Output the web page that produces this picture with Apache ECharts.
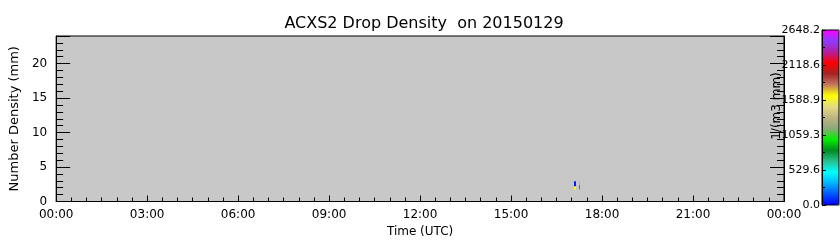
<!DOCTYPE html>
<html>
<head>
<meta charset="utf-8">
<script src="https://cdn.jsdelivr.net/npm/echarts@6/dist/echarts.min.js"></script>
<style>html,body{margin:0;padding:0;background:#fff}#c{width:840px;height:250px}</style>
</head>
<body>
<div id="c"></div>
<script>
// Data (hours UTC, drop diameter mm, density 1/(m3 mm))
const timeStart = [17.077, 17.077, 17.242, 17.242];
const timeEnd   = [17.143, 17.143, 17.275, 17.275];
const diamLow   = [2.17, 1.74, 2.36, 1.78];
const diamHigh  = [2.94, 2.17, 2.94, 2.36];
const density   = [60, 1650, 500, 2600];

const xTickHours = [0, 3, 6, 9, 12, 15, 18, 21, 24];
const yTicks = [0, 5, 10, 15, 20];
const colorbarMax = 2648.2;
const colorbarStep = 529.64;

const palette = ['#0000ff','#0056ff','#00b4ff','#00ffff','#28c090','#008c1e','#00f000','#8caa78',
  '#beb482','#e6dc82','#ffff00','#c3785f','#a52323','#ff0000','#b41ea0','#8c3cff','#ff00ff'];

const cells = timeStart.map((t, i) => [t, timeEnd[i], diamLow[i], diamHigh[i], density[i]]);

const FONT = 'DejaVu Sans';
const chart = echarts.init(document.getElementById('c'), null, {renderer: 'canvas'});
chart.setOption({
  animation: false,
  backgroundColor: '#ffffff',
  title: {
    text: 'ACXS2 Drop Density  on 20150129',
    left: 419, top: 11, textAlign: 'center',
    textStyle: {fontFamily: FONT, fontSize: 16, fontWeight: 'normal', color: '#000'}
  },
  grid: [
    {left: 56, top: 36, width: 728, height: 165.5, show: true, backgroundColor: 'rgb(200,200,200)',
     borderColor: '#000', borderWidth: 1},
    {left: 822, top: 30, width: 17, height: 175, show: true, backgroundColor: 'transparent',
     borderColor: '#000', borderWidth: 1, z: 10}
  ],
  visualMap: {
    type: 'continuous', min: 0, max: colorbarMax, dimension: 4, seriesIndex: 0,
    calculable: false, left: 822, top: 30, itemWidth: 17, itemHeight: 175, padding: 0,
    inRange: {color: palette}, text: null, hoverLink: false
  },
  xAxis: [
    {type: 'value', gridIndex: 0, min: 0, max: 24, interval: 3,
     name: 'Time (UTC)', nameLocation: 'middle', nameGap: 24,
     nameTextStyle: {fontFamily: FONT, fontSize: 12, color: '#000'},
     axisLine: {lineStyle: {color: '#000'}},
     axisTick: {inside: true, length: 6, lineStyle: {color: '#000'}},
     minorTick: {show: true, splitNumber: 6, length: 4, lineStyle: {color: '#000'}},
     splitLine: {show: false},
     axisLabel: {fontFamily: FONT, fontSize: 12, color: '#000', margin: 7,
       formatter: v => (xTickHours.indexOf(v) >= 0 ? String(v % 24).padStart(2, '0') + ':00' : '')}},
    {type: 'value', gridIndex: 1, min: 0, max: 1, show: false}
  ],
  yAxis: [
    {type: 'value', gridIndex: 0, min: 0, max: 24, interval: 5, position: 'left',
     name: 'Number Density (mm)', nameLocation: 'middle', nameGap: 26,
     nameTextStyle: {fontFamily: FONT, fontSize: 13, color: '#000'},
     axisLine: {show: true, lineStyle: {color: '#000'}},
     axisTick: {inside: true, length: 14, lineStyle: {color: '#000'}},
     minorTick: {show: true, splitNumber: 5, length: 7, lineStyle: {color: '#000'}},
     splitLine: {show: false},
     axisLabel: {fontFamily: FONT, fontSize: 12, color: '#000', margin: 9,
       formatter: v => (yTicks.indexOf(v) >= 0 ? String(v) : '')}},
    {type: 'value', gridIndex: 0, min: 0, max: 24, interval: 5, position: 'right',
     axisLine: {show: true, lineStyle: {color: '#000'}},
     axisTick: {inside: true, length: 14, lineStyle: {color: '#000'}},
     minorTick: {show: true, splitNumber: 5, length: 7, lineStyle: {color: '#000'}},
     splitLine: {show: false}, axisLabel: {show: false}},
    {type: 'value', gridIndex: 1, min: 0, max: colorbarMax, interval: colorbarStep, position: 'left',
     z: 12,
     axisLine: {show: true, lineStyle: {color: '#000'}},
     axisTick: {inside: true, length: 4, lineStyle: {color: '#000'}},
     minorTick: {show: true, splitNumber: 2, length: 3, lineStyle: {color: '#000'}},
     splitLine: {show: false},
     axisLabel: {fontFamily: FONT, fontSize: 11, color: '#000', margin: 2,
       formatter: v => v.toFixed(1)}}
  ],
  graphic: [
    {type: 'text', x: 777, y: 106, rotation: Math.PI / 2, z: 20,
     style: {text: '1/(m3 mm)', font: '12px "DejaVu Sans"', fill: '#000', textAlign: 'center', textVerticalAlign: 'middle'}}
  ],
  series: [
    {type: 'custom', xAxisIndex: 0, yAxisIndex: 0, data: cells, clip: true,
     encode: {x: [0, 1], y: [2, 3]},
     renderItem: function (params, api) {
       const p0 = api.coord([api.value(0), api.value(3)]);
       const p1 = api.coord([api.value(1), api.value(2)]);
       return {type: 'rect', shape: {x: Math.round(p0[0]), y: p0[1], width: Math.max(1, Math.round(p1[0] - p0[0])), height: p1[1] - p0[1]},
         style: {fill: api.visual('color')}};
     }}
  ]
});
</script>
</body>
</html>
